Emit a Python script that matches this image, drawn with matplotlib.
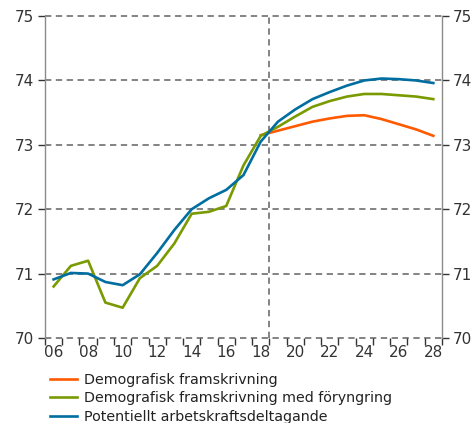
import matplotlib.pyplot as plt
import numpy as np

years = list(range(2006, 2029))

# Demografisk framskrivning (from 2018)
demo_years = list(range(2018, 2029))
demo = [73.15, 73.22, 73.29, 73.36, 73.41, 73.45, 73.46, 73.40, 73.32, 73.24, 73.14]

# Demografisk framskrivning med föryngring
demo_fory = [70.80, 71.12, 71.20, 70.55, 70.47, 70.93, 71.12, 71.47, 71.93, 71.96,
             72.05, 72.68, 73.14, 73.28, 73.44, 73.59, 73.68, 73.75, 73.79, 73.79,
             73.77, 73.75, 73.71]

# Potentiellt arbetskraftsdeltagande
potential = [70.91, 71.01, 71.00, 70.87, 70.82, 70.99, 71.32, 71.68, 72.00, 72.17,
             72.30, 72.53, 73.05, 73.36, 73.55, 73.71, 73.82, 73.92, 74.00, 74.03,
             74.02, 74.00, 73.96]

labels = ['Demografisk framskrivning',
          'Demografisk framskrivning med föryngring',
          'Potentiellt arbetskraftsdeltagande']
colors = ['#ff5a00', '#7a9a01', '#006ea0']

plt.rcParams['font.family'] = 'DejaVu Sans'
plt.rcParams['font.size'] = 10

fig = plt.figure(figsize=(4.72, 4.23), dpi=100)
ax = fig.add_axes([0.0953, 0.201, 0.841, 0.761])

x_all = np.array(years) - 2006
x_demo = np.array(demo_years) - 2006

ax.plot(x_demo, demo, color=colors[0], lw=1.9, label=labels[0], zorder=3)
ax.plot(x_all, demo_fory, color=colors[1], lw=1.9, label=labels[1], zorder=4)
ax.plot(x_all, potential, color=colors[2], lw=1.9, label=labels[2], zorder=5)

ax.set_xlim(-0.5, len(years) - 0.5)
ax.set_ylim(70, 75)

grid_kw = dict(color='#7a7a7a', lw=1.3, ls=(0, (3.5, 2.5)), zorder=1, clip_on=False)
for yv in range(70, 76):
    ax.axhline(yv, **grid_kw)
ax.axvline(12.5, **grid_kw)

for s in ['top', 'bottom']:
    ax.spines[s].set_visible(False)
for s in ['left', 'right']:
    ax.spines[s].set_color('#8a8a8a')
    ax.spines[s].set_linewidth(1.0)

ax.set_yticks(range(70, 76))
ax.tick_params(axis='y', which='major', left=True, right=True, labelleft=True,
               labelright=True, length=5, width=1, color='#333333', pad=3,
               labelsize=11, labelcolor='#333333')

ax.set_xticks(np.arange(-0.5, len(years), 1.0))
ax.set_xticklabels([])
ax.tick_params(axis='x', which='major', length=5, width=1, color='#333333')
ax.set_xticks(x_all[::2], minor=True)
ax.set_xticklabels([str(y)[2:] for y in years[::2]], minor=True)
ax.tick_params(axis='x', which='minor', length=0, pad=5, labelsize=11,
               labelcolor='#333333')

fig.legend(loc='upper left', bbox_to_anchor=(0.106, 0.118), frameon=False,
           handlelength=1.9, handletextpad=0.45, labelspacing=0.3,
           borderaxespad=0, borderpad=0, fontsize=10.3, labelcolor='#222222')

fig.savefig('out.png', dpi=100)
